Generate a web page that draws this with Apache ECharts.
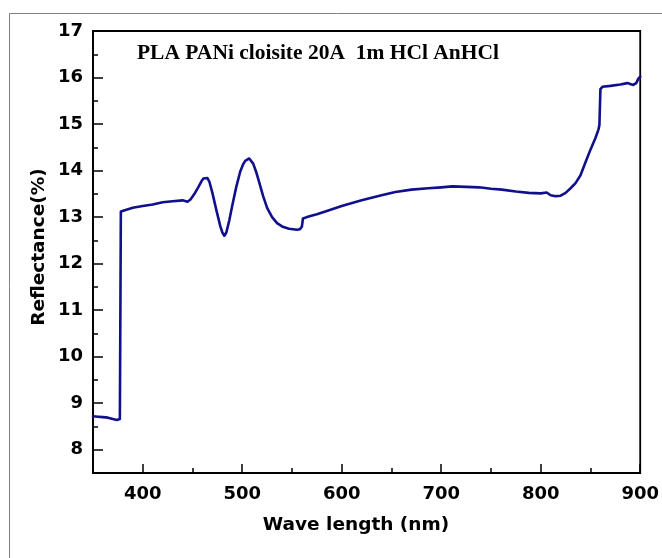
<!DOCTYPE html>
<html>
<head>
<meta charset="utf-8">
<script src="https://cdn.jsdelivr.net/npm/echarts@6/dist/echarts.min.js"></script>
<style>
html,body{margin:0;padding:0;background:#fff;}
#chart{width:662px;height:558px;}
</style>
</head>
<body>
<div id="chart"></div>
<script>
// Wavelength (nm)
var wavelength = [350,355,360,365,370,374,376,377,378,380,390,400,410,420,430,440,445,448,452,456,459,461,463,465,467,470,474,478,480,482,484,487,490,494,498,501,503,505,507,509,511,514,517,521,525,530,535,540,547,555,558,560,561,565,575,585,600,620,640,654,670,687,700,711,725,738,750,761,775,788,800,806,810,815,820,825,830,835,840,845,850,855,858,859,860,862,870,880,887,893,896,898,900];
// Reflectance (%)
var reflectance = [8.72,8.71,8.70,8.69,8.66,8.64,8.65,8.66,13.12,13.15,13.20,13.24,13.27,13.32,13.34,13.36,13.33,13.38,13.50,13.65,13.77,13.83,13.86,13.84,13.76,13.52,13.15,12.80,12.67,12.60,12.67,12.93,13.25,13.65,13.98,14.14,14.21,14.25,14.26,14.23,14.15,13.97,13.75,13.45,13.20,13.00,12.87,12.80,12.75,12.73,12.74,12.80,12.97,13.00,13.06,13.13,13.24,13.36,13.47,13.54,13.59,13.62,13.64,13.66,13.65,13.64,13.61,13.59,13.55,13.52,13.51,13.53,13.47,13.45,13.46,13.52,13.62,13.73,13.90,14.18,14.45,14.70,14.88,14.98,15.75,15.80,15.82,15.85,15.88,15.84,15.88,15.97,16.02];
var xMajorTicks = [400,500,600,700,800,900];
var yMajorTicks = [8,9,10,11,12,13,14,15,16,17];
var titleText = 'PLA PANi cloisite 20A  1m HCl AnHCl';
var xTitle = 'Wave length (nm)';
var yTitle = 'Reflectance(%)';

var data = wavelength.map(function(w,i){return [w, reflectance[i]];});
var chart = echarts.init(document.getElementById('chart'));
var lblFont = {fontFamily:'DejaVu Sans', fontWeight:'bold', fontSize:18, color:'#000'};
chart.setOption({
  animation:false,
  backgroundColor:'#fff',
  grid:{left:93,right:20,top:31,bottom:85,show:true,borderColor:'#000',borderWidth:1.8,backgroundColor:'transparent'},
  xAxis:[{
    type:'value',min:350,max:900,interval:50,
    axisLine:{show:true,onZero:false,lineStyle:{color:'#000',width:1.8}},
    axisTick:{show:true,inside:true,length:5,lineStyle:{color:'#000',width:1.5}},
    axisLabel:Object.assign({margin:12,formatter:function(v){return v%100===0&&v>350?String(v):'';}},lblFont),
    splitLine:{show:false}
  },{
    type:'value',min:350,max:900,position:'bottom',
    axisLine:{show:false},
    axisTick:{show:true,inside:true,length:9,customValues:xMajorTicks,lineStyle:{color:'#000',width:1.5}},
    axisLabel:{show:false},
    splitLine:{show:false}
  }],
  yAxis:[{
    type:'value',min:7.5,max:17,interval:0.5,
    axisLine:{show:true,onZero:false,lineStyle:{color:'#000',width:1.8}},
    axisTick:{show:true,inside:true,length:5,lineStyle:{color:'#000',width:1.5}},
    axisLabel:Object.assign({margin:10,formatter:function(v){return Math.abs(v-Math.round(v))<1e-6?String(Math.round(v)):'';}},lblFont),
    splitLine:{show:false}
  },{
    type:'value',min:7.5,max:17,position:'left',
    axisLine:{show:false},
    axisTick:{show:true,inside:true,length:10,customValues:yMajorTicks,lineStyle:{color:'#000',width:1.5}},
    axisLabel:{show:false},
    splitLine:{show:false}
  }],
  series:[{
    type:'line',data:data,showSymbol:false,symbol:'none',
    xAxisIndex:0,yAxisIndex:0,
    lineStyle:{color:'#10108c',width:2.6,join:'round',cap:'round'},
    smooth:false
  }],
  graphic:[
    {type:'rect',left:7,top:11,shape:{x:0,y:0,width:700,height:600},style:{fill:'none',stroke:'#808080',lineWidth:1},silent:true},
    {type:'text',x:318,y:53,style:{text:titleText,fontFamily:'Liberation Serif',fontWeight:'bold',fontSize:21.5,fill:'#000',align:'center',verticalAlign:'middle'}},
    {type:'text',x:356,y:525,style:{text:xTitle,fontFamily:'DejaVu Sans',fontWeight:'bold',fontSize:18.5,fill:'#000',align:'center',verticalAlign:'middle'}},
    {type:'text',x:39,y:247,rotation:Math.PI/2,style:{text:yTitle,fontFamily:'DejaVu Sans',fontWeight:'bold',fontSize:18.5,fill:'#000',align:'center',verticalAlign:'middle'}}
  ]
});
</script>
</body>
</html>
